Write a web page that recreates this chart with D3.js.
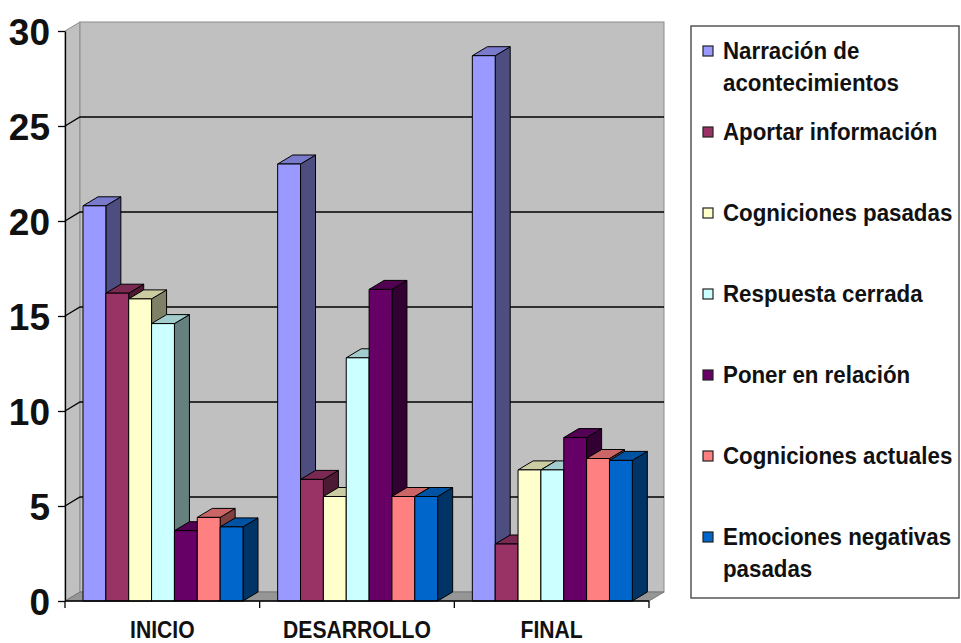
<!DOCTYPE html>
<html>
<head>
<meta charset="utf-8">
<script src="https://cdn.jsdelivr.net/npm/d3@7"></script>
<style>
  body { margin: 0; background: #fff; }
  text { font-family: "Liberation Sans", Arial, sans-serif; font-weight: bold; fill: #111; }
</style>
</head>
<body>
<div id="chart"></div>
<script>
// categories and series
const categories = ["INICIO", "DESARROLLO", "FINAL"];
const seriesNames = [
  "Narración de acontecimientos",
  "Aportar información",
  "Cogniciones pasadas",
  "Respuesta cerrada",
  "Poner en relación",
  "Cogniciones actuales",
  "Emociones negativas pasadas"
];
const legendLines = [
  ["Narración de", "acontecimientos"],
  ["Aportar información"],
  ["Cogniciones pasadas"],
  ["Respuesta cerrada"],
  ["Poner en relación"],
  ["Cogniciones actuales"],
  ["Emociones negativas", "pasadas"]
];
const seriesColors = ["#9999FF", "#993366", "#FFFFCC", "#CCFFFF", "#660066", "#FF8080", "#0066CC"];

// values per series (INICIO, DESARROLLO, FINAL)
const narracion    = [20.8, 23.0, 28.7];
const aportar      = [16.2, 6.4, 3.0];
const cognPasadas  = [15.9, 5.5, 6.9];
const respuesta    = [14.6, 12.8, 6.9];
const poner        = [3.7, 16.4, 8.6];
const cognActuales = [4.4, 5.5, 7.5];
const emociones    = [3.9, 5.5, 7.4];
const yTicks = [0, 5, 10, 15, 20, 25, 30];

const seriesValues = [narracion, aportar, cognPasadas, respuesta, poner, cognActuales, emociones];

// dimensions
const margin = {top: 31, left: 65},
    width = 584,
    height = 570,
    depth = {dx: 15, dy: -9};

const svg = d3.select("#chart")
  .append("svg")
    .attr("width", 961)
    .attr("height", 643);

const g = svg.append("g")
    .attr("transform", `translate(${margin.left}, ${margin.top})`);

// scales
let x0 = d3.scaleBand()
  .domain(categories)
  .range([0, width]);
let x1 = d3.scaleBand()
  .domain(seriesNames)
  .range([18, 178]);
let y = d3.scaleLinear()
  .domain([0, 30])
  .range([height, 0]);

// walls + floor
const wall = g.append("g");
wall.append("polygon")
  .attr("points", [[0, y(30)], [depth.dx, y(30) + depth.dy], [depth.dx, y(0) + depth.dy], [0, y(0)]].join(" "))
  .attr("fill", "#c0c0c0").attr("stroke", "#8c8c8c");
wall.append("rect")
  .attr("x", depth.dx).attr("y", y(30) + depth.dy)
  .attr("width", width).attr("height", height)
  .attr("fill", "#c0c0c0").attr("stroke", "#8c8c8c");
wall.append("polygon")
  .attr("points", [[0, y(0)], [depth.dx, y(0) + depth.dy], [width + depth.dx, y(0) + depth.dy], [width, y(0)]].join(" "))
  .attr("fill", "#969696").attr("stroke", "#777");

// gridlines on back + side wall
const grid = yTicks.filter(d => d > 0 && d < 30);
wall.selectAll(".grid")
  .data(grid)
  .join("path")
    .attr("class", "grid")
    .attr("d", d => `M0,${y(d)}L${depth.dx},${y(d) + depth.dy}H${width + depth.dx}`)
    .attr("fill", "none")
    .attr("stroke", "#000")
    .attr("stroke-width", 1.3);

// bars
const bw = x1.bandwidth();
categories.forEach(function(c, ci) {
  seriesNames.forEach(function(s, si) {
    const v = seriesValues[si][ci];
    const xl = x0(c) + x1(s), xr = xl + bw;
    const yt = y(v), yb = y(0);
    const col = d3.rgb(seriesColors[si]);
    const side = d3.rgb(col.r * 0.5, col.g * 0.5, col.b * 0.5);
    const top = d3.rgb(col.r * 0.8, col.g * 0.8, col.b * 0.8);
    const bar = g.append("g").attr("stroke", "#000").attr("stroke-width", 1).attr("stroke-linejoin", "round");
    bar.append("polygon")
      .attr("points", [[xr, yt], [xr + depth.dx, yt + depth.dy], [xr + depth.dx, yb + depth.dy], [xr, yb]].join(" "))
      .attr("fill", side);
    bar.append("polygon")
      .attr("points", [[xl, yt], [xl + depth.dx, yt + depth.dy], [xr + depth.dx, yt + depth.dy], [xr, yt]].join(" "))
      .attr("fill", top);
    bar.append("rect")
      .attr("x", xl).attr("y", yt)
      .attr("width", bw).attr("height", yb - yt)
      .attr("fill", col);
  });
});

// Y axis
let yAxis = g.append("g")
  .call(d3.axisLeft(y).tickValues(yTicks).tickSize(7).tickSizeOuter(0).tickPadding(8));
yAxis.select(".domain").attr("stroke", "#000").attr("stroke-width", 1.3);
yAxis.selectAll(".tick line").attr("stroke", "#000").attr("stroke-width", 1.3);
yAxis.selectAll(".tick text")
  .attr("font-size", 37)
  .attr("font-family", null)
  .attr("dy", "0.36em")
  .style("font-family", "'Liberation Sans', Arial, sans-serif")
  .style("font-weight", "bold")
  .style("fill", "#111");

// X axis
g.append("line")
  .attr("x1", 0).attr("x2", width)
  .attr("y1", y(0)).attr("y2", y(0))
  .attr("stroke", "#000").attr("stroke-width", 1.3);
const bounds = categories.map(c => x0(c)).concat([width]);
g.selectAll(".xtick")
  .data(bounds)
  .join("line")
    .attr("class", "xtick")
    .attr("x1", d => d).attr("x2", d => d)
    .attr("y1", y(0)).attr("y2", y(0) + 7)
    .attr("stroke", "#000").attr("stroke-width", 1.3);
g.selectAll(".xlabel")
  .data(categories)
  .join("text")
    .attr("class", "xlabel")
    .attr("transform", d => `translate(${x0(d) + x0.bandwidth() / 2}, ${y(0) + 37}) scale(0.88,1)`)
    .attr("text-anchor", "middle")
    .attr("font-size", 24)
    .text(d => d);

// legend
const legend = svg.append("g");
legend.append("rect")
  .attr("x", 691).attr("y", 26)
  .attr("width", 268).attr("height", 572)
  .attr("fill", "#fff")
  .attr("stroke", "#555")
  .attr("stroke-width", 1.5);

const item = legend.selectAll(".item")
  .data(seriesNames)
  .join("g")
    .attr("class", "item")
    .attr("transform", (d, i) => `translate(703, ${59 + i * 81})`);
item.append("rect")
  .attr("x", 0).attr("y", -13)
  .attr("width", 10).attr("height", 10)
  .attr("fill", (d, i) => seriesColors[i])
  .attr("stroke", "#222")
  .attr("stroke-width", 1.2);
item.each(function(d, i) {
  d3.select(this).selectAll("text")
    .data(legendLines[i])
    .join("text")
      .attr("transform", (t, j) => `translate(20, ${j * 32}) scale(0.93,1)`)
      .attr("font-size", 24)
      .text(t => t);
});
</script>
</body>
</html>
